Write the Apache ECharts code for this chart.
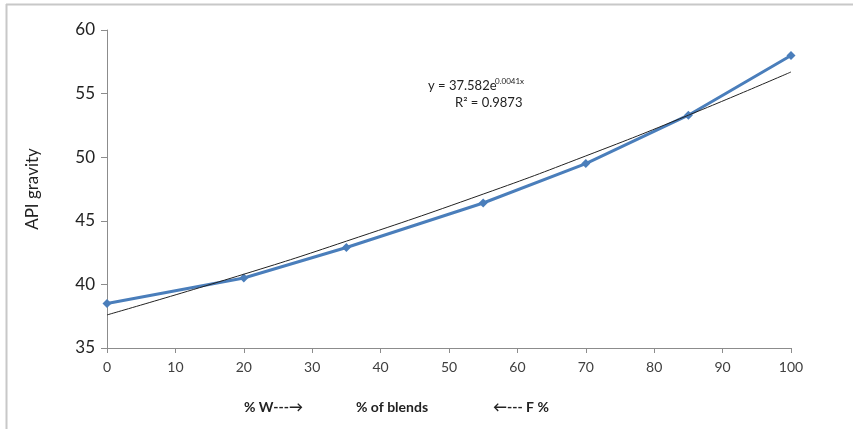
<!DOCTYPE html>
<html><head><meta charset="utf-8">
<script src="https://cdn.jsdelivr.net/npm/echarts@6/dist/echarts.min.js"></script>
<style>html,body{margin:0;padding:0;background:#fff}#c{width:853px;height:429px}</style>
</head><body><div id="c"></div>
<script>
const blendPct = [0, 20, 35, 55, 70, 85, 100];
const apiGravity = [38.5, 40.5, 42.9, 46.4, 49.5, 53.3, 58.0];
const trendX = [0, 20, 35, 55, 70, 85, 100];
const trendY = [37.6, 40.8, 43.4, 47.1, 50.1, 53.3, 56.7];
const xTicks = [0, 10, 20, 30, 40, 50, 60, 70, 80, 90, 100];
const yTicks = [35, 40, 45, 50, 55, 60];

const chart = echarts.init(document.getElementById('c'));
const F = 'Lato, "Open Sans", sans-serif';
chart.setOption({
  animation: false,
  grid: {left: 107, right: 62, top: 30, bottom: 81},
  xAxis: {
    type: 'value', min: 0, max: 100, interval: 10,
    axisLine: {lineStyle: {color: '#8c8c8c', width: 1}},
    axisTick: {show: true, length: 5, lineStyle: {color: '#8c8c8c'}},
    axisLabel: {color: '#404040', fontFamily: F, fontSize: 14, margin: 12,
      formatter: v => xTicks.includes(v) ? String(v) : ''},
    splitLine: {show: false}
  },
  yAxis: {
    type: 'value', min: 35, max: 60, interval: 5,
    axisLine: {show: true, lineStyle: {color: '#8c8c8c', width: 1}},
    axisTick: {show: true, length: 6, lineStyle: {color: '#8c8c8c'}},
    axisLabel: {color: '#222', fontFamily: F, fontSize: 17, margin: 12,
      formatter: v => yTicks.includes(v) ? String(v) : ''},
    splitLine: {show: false},
    name: 'API gravity', nameLocation: 'middle', nameGap: 66, nameRotate: 90,
    nameTextStyle: {color: '#222', fontFamily: F, fontSize: 17}
  },
  series: [
    {
      type: 'line', data: trendX.map((x, i) => [x, trendY[i]]),
      smooth: true, showSymbol: false, symbol: 'none',
      lineStyle: {color: '#222', width: 1}, z: 3
    },
    {
      type: 'line', data: blendPct.map((x, i) => [x, apiGravity[i]]),
      symbol: 'diamond', symbolSize: 9,
      itemStyle: {color: '#4a7ebb'},
      lineStyle: {color: '#4a7ebb', width: 3}, z: 2
    }
  ],
  graphic: [
    {type: 'line', shape: {x1: 6.5, y1: 4, x2: 6.5, y2: 429}, style: {stroke: '#c8c8c8', lineWidth: 2}},
    {type: 'line', shape: {x1: 6, y1: 4.5, x2: 853, y2: 4.5}, style: {stroke: '#c8c8c8', lineWidth: 2}},
    {type: 'text', left: 428, top: 79, style: {text: 'y = 37.582e', fontFamily: F, fontSize: 13, fill: '#222'}},
    {type: 'text', left: 495, top: 77, style: {text: '0.0041x', fontFamily: F, fontSize: 8, fill: '#222'}},
    {type: 'text', left: 455, top: 96, style: {text: 'R² = 0.9873', fontFamily: F, fontSize: 13, fill: '#222'}},
    {type: 'text', left: 244, top: 400, style: {text: '% W---→', fontFamily: F, fontSize: 14, fontWeight: 'bold', fill: '#222'}},
    {type: 'text', left: 356, top: 400, style: {text: '% of blends', fontFamily: F, fontSize: 14, fontWeight: 'bold', fill: '#222'}},
    {type: 'text', left: 493, top: 400, style: {text: '←--- F %', fontFamily: F, fontSize: 14, fontWeight: 'bold', fill: '#222'}}
  ]
});
</script></body></html>
